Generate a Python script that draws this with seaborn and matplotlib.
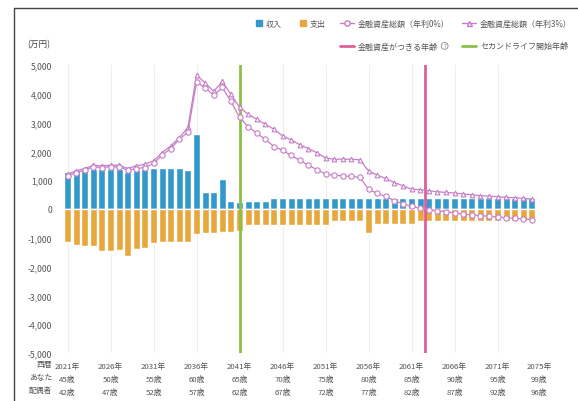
import numpy as np
import pandas as pd
import matplotlib
matplotlib.use("Agg")
import matplotlib.pyplot as plt
from matplotlib.lines import Line2D
import seaborn as sns

# ---- data (万円) ----
years = list(range(2021, 2076))
age_you = [y - 2021 + 45 for y in years]
age_spouse = [y - 2021 + 42 for y in years]

income = [1290, 1325, 1360, 1405, 1385, 1385, 1385, 1290, 1360, 1405,
          1430, 1440, 1440, 1430, 1370, 2595, 600, 600, 1040, 290,
          255, 290, 290, 290] + [375] * 31

expense = [-1155, -1245, -1270, -1290, -1475, -1455, -1440, -1615, -1385, -1360,
           -1175, -1130, -1155, -1130, -1130, -865, -845, -830, -805, -785,
           -750] + [-545] * 10 + [-405] * 4 + [-820] + [-510] * 5 + [-405] * 14

assets_0 = [1150, 1265, 1350, 1465, 1440, 1465, 1465, 1350, 1405, 1440,
            1580, 1870, 2100, 2420, 2675, 4400, 4210, 3945, 4220, 3740,
            3180, 2860, 2630, 2420, 2170, 2035, 1860, 1690, 1520, 1370,
            1210, 1175, 1150, 1130, 1095, 690, 540, 440, 290, 175,
            90, 25, -25, -60, -90, -140, -175, -205, -230, -255,
            -280, -300, -325, -345, -370]

assets_3 = [1210, 1325, 1405, 1520, 1500, 1520, 1520, 1405, 1500, 1555,
            1670, 1960, 2190, 2480, 2830, 4650, 4380, 4080, 4430, 3980,
            3530, 3290, 3115, 2940, 2770, 2540, 2400, 2230, 2100, 1950,
            1770, 1730, 1730, 1730, 1705, 1325, 1175, 1060, 920, 805,
            690, 670, 635, 600, 575, 555, 520, 495, 460, 450,
            425, 405, 390, 370, 345]

second_life_year = 2041
depletion_year = 2062.6

series_names = ["収入", "支出", "金融資産総額（年利0%）", "金融資産総額（年利3%）",
                "金融資産がつきる年齢", "セカンドライフ開始年齢"]
row_heads = ["西暦", "あなた", "配偶者"]

# ---- styling ----
C_INCOME = "#3399CC"
C_EXPENSE = "#E8A73C"
C_ASSET = "#C67EC6"
C_DEPLETE = "#DE5F98"
C_SECOND = "#8CBF4A"
TXT = "#555555"

sns.set_theme(style="white")
plt.rcParams["font.family"] = ["Noto Sans CJK JP", "DejaVu Sans"]

W, H = 578, 402
fig = plt.figure(figsize=(W / 100, H / 100), dpi=100)
ax = fig.add_axes([59.8 / W, 1 - 354 / H, (538.8 - 59.8) / W, (354 - 66) / H])

df = pd.DataFrame({
    "year": years * 2,
    "value": income + expense,
    "kind": ["収入"] * len(years) + ["支出"] * len(years),
})
sns.barplot(data=df, x="year", y="value", hue="kind", native_scale=True,
            dodge=False, errorbar=None, legend=False, width=0.8, saturation=1,
            palette={"収入": C_INCOME, "支出": C_EXPENSE}, ax=ax, zorder=2)

sns.lineplot(x=years, y=assets_3, ax=ax, color=C_ASSET, lw=0.9, marker="^",
             markersize=3.4, markerfacecolor="white", markeredgecolor=C_ASSET,
             markeredgewidth=0.8, zorder=5)
sns.lineplot(x=years, y=assets_0, ax=ax, color=C_ASSET, lw=0.9, marker="o",
             markersize=3.8, markerfacecolor="white", markeredgecolor=C_ASSET,
             markeredgewidth=0.8, zorder=5)

ax.axvline(second_life_year, color=C_SECOND, lw=2, zorder=4)
ax.axvline(depletion_year, color=C_DEPLETE, lw=2, zorder=4)

x_right = years[-1] + 0.8
ax.set_xlim(years[0] - 0.9, x_right)
ax.set_ylim(-5000, 5000)

# y axis
yt = list(range(-5000, 5001, 1000))
ax.set_yticks(yt)
ax.set_yticklabels([f"{v:,}" for v in yt], fontsize=6.2, color=TXT)
ax.tick_params(axis="y", length=0, pad=5.5)

# x axis: year / your age / spouse age
tick_idx = list(range(0, len(years) - 1, 5))
tick_pos = [years[i] for i in tick_idx] + [x_right]
tick_lab = [f"{years[i]}年\n{age_you[i]}歳\n{age_spouse[i]}歳" for i in tick_idx]
tick_lab.append(f"{years[-1]}年\n{age_you[-1]}歳\n{age_spouse[-1]}歳")
ax.set_xticks(tick_pos)
ax.set_xticklabels(tick_lab, fontsize=5.6, color=TXT, linespacing=1.8)
ax.tick_params(axis="x", length=0, pad=6.5)
ax.set_xlabel("")
ax.set_ylabel("")
ax.grid(axis="x", color="#EEEEEE", lw=0.8, zorder=0)
ax.grid(axis="y", visible=False)
for s in ax.spines.values():
    s.set_visible(False)

ax.annotate("\n".join(row_heads), xy=(0, 0), xycoords="axes fraction",
            xytext=(-5.5, -5.0), textcoords="offset points", ha="right", va="top",
            fontsize=5.6, color=TXT, linespacing=1.8)

fig.text(27 / W, 1 - 45 / H, "(万円)", fontsize=6.2, color="#444444",
         ha="left", va="center")

# legend: line series as a 2 x 2 grid on the right
line_handles = [
    Line2D([], [], color=C_ASSET, lw=1.0, marker="o", ms=3.8, mfc="white", mec=C_ASSET),
    Line2D([], [], color=C_DEPLETE, lw=2),
    Line2D([], [], color=C_ASSET, lw=1.0, marker="^", ms=3.6, mfc="white", mec=C_ASSET),
    Line2D([], [], color=C_SECOND, lw=2),
]
line_labels = [series_names[2], series_names[4], series_names[3], series_names[5]]
leg_lines = fig.legend(line_handles, line_labels, ncol=2, loc="upper right",
                       bbox_to_anchor=(575 / W, 1 - 17 / H), frameon=False,
                       fontsize=5.75, handlelength=1.8, handletextpad=0.45,
                       columnspacing=1.6, labelspacing=1.65, borderaxespad=0)
for t in leg_lines.get_texts():
    t.set_color(TXT)

# legend: bar series in the first row, to the left
bar_handles = [
    Line2D([], [], linestyle="none", marker="s", ms=4.5, color=C_INCOME),
    Line2D([], [], linestyle="none", marker="s", ms=4.5, color=C_EXPENSE),
]
leg_bars = fig.legend(bar_handles, series_names[:2], ncol=2, loc="upper right",
                      bbox_to_anchor=(329 / W, 1 - 17 / H), frameon=False,
                      fontsize=5.75, handlelength=0.7, handletextpad=0.45,
                      columnspacing=2.4, borderaxespad=0)
for t in leg_bars.get_texts():
    t.set_color(TXT)

# help mark after the depletion-age label
fig.canvas.draw()
bb = leg_lines.get_texts()[1].get_window_extent()
fig.text((bb.x1 + 7) / W, (bb.y0 + bb.y1) / 2 / H, "?", fontsize=4.3, color="#777777",
         ha="center", va="center",
         bbox=dict(boxstyle="circle,pad=0.15", fc="white", ec="#888888", lw=0.6))

# card frame
fig.add_artist(Line2D([13.5 / W, 13.5 / W], [0, 1 - 9 / H], color="#444444", lw=1,
                      transform=fig.transFigure))
fig.add_artist(Line2D([13.5 / W, 1], [1 - 9 / H, 1 - 9 / H], color="#444444", lw=1,
                      transform=fig.transFigure))

fig.savefig("out.png", dpi=100, facecolor="white")
